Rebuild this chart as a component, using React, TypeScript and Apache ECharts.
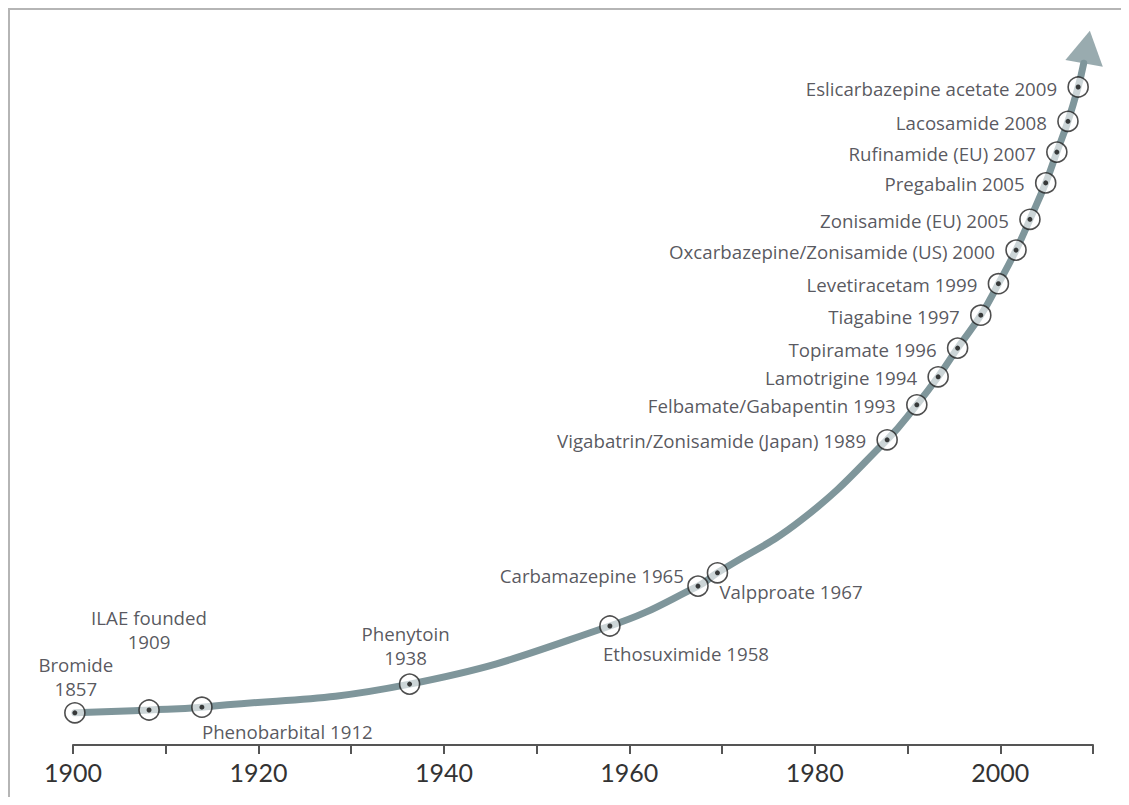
import React, { useEffect, useRef } from "react";
import * as echarts from "echarts";

// ---- data ----
const drugNames = [
  "Bromide\n1857",
  "ILAE founded\n1909",
  "Phenobarbital 1912",
  "Phenytoin\n1938",
  "Ethosuximide 1958",
  "Carbamazepine 1965",
  "Valpproate 1967",
  "Vigabatrin/Zonisamide (Japan) 1989",
  "Felbamate/Gabapentin 1993",
  "Lamotrigine 1994",
  "Topiramate 1996",
  "Tiagabine 1997",
  "Levetiracetam 1999",
  "Oxcarbazepine/Zonisamide (US) 2000",
  "Zonisamide (EU) 2005",
  "Pregabalin 2005",
  "Rufinamide (EU) 2007",
  "Lacosamide 2008",
  "Eslicarbazepine acetate 2009",
];
// position along the time axis
const markerYears = [
  1900.2, 1908.2, 1913.9, 1936.3, 1957.9, 1967.4, 1969.5, 1987.8, 1991.0, 1993.3,
  1995.4, 1997.9, 1999.8, 2001.7, 2003.2, 2004.9, 2006.1, 2007.3, 2008.4,
];
// height of the growth curve (relative units)
const markerHeights = [
  4.6, 5.0, 5.4, 8.7, 17.0, 22.7, 24.6, 43.6, 48.6, 52.6, 56.7, 61.4, 65.9, 70.7,
  75.1, 80.3, 84.7, 89.1, 94.0,
];
// extra point on the curve between markers, and its end under the arrow head
const curveExtraYears = [1978.6, 2009.0];
const curveExtraHeights = [32.2, 97.4];
const arrowYear = 2009.35;
const arrowHeight = 99.7;

const axisMin = 1900;
const axisMax = 2010;
const tickStep = 10;
const labelStep = 20;

// ---- label placement (style, not data) ----
type Place = { align: string; verticalAlign: string; offset: [number, number] };
const leftPlace: Place = { align: "right", verticalAlign: "middle", offset: [-21, 1] };
const customPlace: Record<string, Place> = {
  "Bromide\n1857": { align: "center", verticalAlign: "bottom", offset: [1, -12] },
  "ILAE founded\n1909": { align: "center", verticalAlign: "bottom", offset: [0, -57] },
  "Phenobarbital 1912": { align: "left", verticalAlign: "middle", offset: [0, 24] },
  "Phenytoin\n1938": { align: "center", verticalAlign: "bottom", offset: [-4, -15] },
  "Ethosuximide 1958": { align: "left", verticalAlign: "middle", offset: [-7, 27] },
  "Carbamazepine 1965": { align: "right", verticalAlign: "middle", offset: [-14, -11] },
  "Valpproate 1967": { align: "left", verticalAlign: "middle", offset: [2, 19] },
};

const FONT = "'Open Sans', Lato, sans-serif";
const CURVE = "#7f969b";

export default function App() {
  const ref = useRef<HTMLDivElement>(null);

  useEffect(() => {
    if (!ref.current) return;
    const chart = echarts.init(ref.current, undefined, { renderer: "svg" });

    const curve = markerYears
      .map((x, i) => [x, markerHeights[i]])
      .concat(curveExtraYears.map((x, i) => [x, curveExtraHeights[i]]))
      .sort((a, b) => a[0] - b[0]);

    const markers = drugNames.map((name, i) => {
      const p = customPlace[name] || leftPlace;
      return {
        name,
        value: [markerYears[i], markerHeights[i]],
        label: {
          show: true,
          position: "inside",
          formatter: name,
          align: p.align,
          verticalAlign: p.verticalAlign,
          offset: p.offset,
          color: "#2d2d35",
          fontSize: 18.7,
          lineHeight: 24,
          fontFamily: FONT,
        },
      };
    });

    chart.setOption({
      animation: false,
      grid: { left: 63, right: 28, top: 35, bottom: 52 },
      xAxis: {
        type: "value",
        min: axisMin,
        max: axisMax,
        interval: tickStep,
        axisLine: { lineStyle: { color: "#555", width: 2 } },
        axisTick: { length: 9, lineStyle: { color: "#555", width: 2 } },
        splitLine: { show: false },
        axisLabel: {
          color: "#333",
          fontSize: 25,
          fontFamily: "Lato, sans-serif",
          margin: 14,
          formatter: (v: number) => ((v - axisMin) % labelStep === 0 && v < axisMax ? String(v) : ""),
        },
      },
      yAxis: { type: "value", min: 0, max: 100, show: false },
      series: [
        {
          type: "line",
          data: curve,
          smooth: 0.45,
          showSymbol: false,
          symbol: "none",
          clip: false,
          lineStyle: { color: CURVE, width: 7, cap: "round" },
          z: 1,
        },
        {
          type: "scatter",
          data: [[arrowYear, arrowHeight]],
          symbol: "triangle",
          symbolSize: [38, 33],
          symbolRotate: -10,
          itemStyle: { color: CURVE },
          clip: false,
          z: 2,
        },
        {
          type: "scatter",
          data: markers,
          symbol: "circle",
          symbolSize: 20,
          itemStyle: { color: "rgba(255,255,255,0.75)", borderColor: "#222", borderWidth: 1.6 },
          clip: false,
          z: 3,
        },
        {
          type: "scatter",
          data: markerYears.map((x, i) => [x, markerHeights[i]]),
          symbol: "circle",
          symbolSize: 5,
          itemStyle: { color: "#111" },
          clip: false,
          silent: true,
          z: 4,
        },
      ],
    });

    return () => chart.dispose();
  }, []);

  return (
    <div
      style={{
        width: 1113,
        height: 789,
        boxSizing: "border-box",
        borderTop: "2px solid #b5b5b5",
        borderLeft: "2px solid #b5b5b5",
        background: "#fff",
      }}
    >
      <div ref={ref} style={{ width: 1111, height: 787 }} />
    </div>
  );
}
